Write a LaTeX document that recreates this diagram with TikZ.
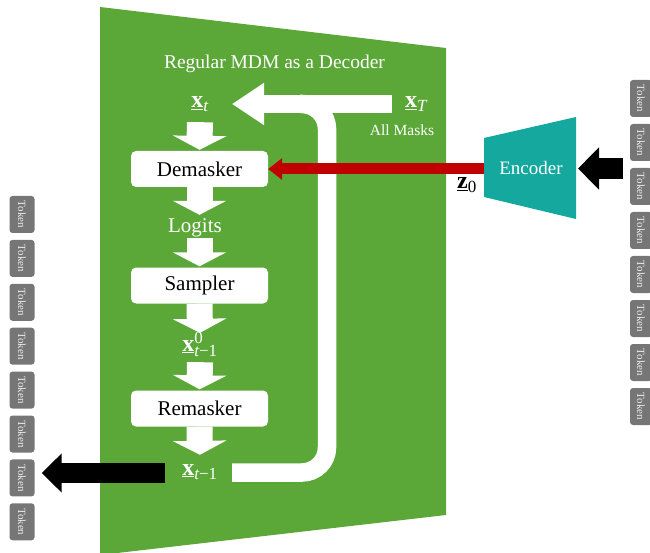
\documentclass[tikz,border=0pt]{standalone}
\usepackage{fontspec}
\setmainfont{Liberation Serif}
\usetikzlibrary{arrows.meta}
\definecolor{mdmgreen}{RGB}{91,168,56}
\definecolor{encteal}{RGB}{20,168,158}
\definecolor{tokgray}{RGB}{118,118,118}
\definecolor{zred}{RGB}{192,0,0}
% bold underlined vector symbol and script pieces set in the text font
\newcommand{\vecsym}[1]{\underline{\hbox{\fontsize{24}{26}\selectfont\bfseries #1}}}
\newcommand{\scr}[1]{\hbox{\fontsize{17}{17}\selectfont #1}}

\begin{document}
\begin{tikzpicture}[x=1pt,y=-1pt,
  stage/.style={fill=white, rounded corners=5pt, minimum width=137pt, minimum height=36pt,
    inner sep=0pt, text=black, font=\fontsize{21}{24}\selectfont},
  lbl/.style={inner sep=0pt, text height=12pt, text depth=4pt, text=white,
    font=\fontsize{19}{22}\selectfont},
  mlbl/.style={lbl, font=\fontsize{21}{24}\selectfont},
  blk/.style={white, line width=26pt, -{Triangle[length=14pt,width=53pt]}},
  token/.style={fill=tokgray, rounded corners=3pt, minimum width=37pt, minimum height=25pt,
    inner sep=0pt, rotate=-90, text=white!85!gray, font=\fontsize{11}{12}\selectfont},
]
\useasboundingbox (0,0) rectangle (650,553);

% decoder body
\fill[mdmgreen] (100,7) -- (446,48) -- (446,515) -- (100,555) -- cycle;
\node[lbl, font=\fontsize{19.5}{22}\selectfont] (title) at (274.5,65) {Regular MDM as a Decoder};

% labels and stages
\node[mlbl] (xt) at (200,104) {$\vecsym{x}_{\scr{\itshape t}}$};
\node[mlbl] (xT) at (416,104) {$\vecsym{x}_{\scr{\itshape T}}$};
\node[lbl, font=\fontsize{15.5}{18}\selectfont] (allm) at (402,132) {All Masks};
\node[stage] (dem) at (199.5,169) {Demasker};
\node[lbl, font=\fontsize{21}{24}\selectfont] (logits) at (195,229) {Logits};
\node[stage] (sam) at (199.5,285.5) {Sampler};
\node[mlbl, text height=18pt, text depth=6pt] (x0) at (200,345)
  {$\vecsym{x}^{\scr{0}}_{\scr{\itshape t\upshape −1}}$};
\node[stage] (rem) at (199.5,408.5) {Remasker};
\node[mlbl] (xtm) at (200,471) {$\vecsym{x}_{\scr{\itshape t\upshape −1}}$};

% pipeline arrows
\draw[blk, shorten <=10pt, shorten >=1pt] (xt.south) -- (dem.north);
\draw[blk, shorten >=6pt] (dem.south) -- (dem.south |- logits.north);
\draw[blk, shorten <=1pt, shorten >=1pt] (sam.north |- logits.south) -- (sam.north);
\draw[blk] (sam.south) -- (x0.north);
\draw[blk, shorten <=5pt, shorten >=1pt] (x0.south) -- (rem.north);
\draw[blk, shorten >=8pt] (rem.south) -- (xtm.north);

% feedback loop
\coordinate (loopR) at (392,104);
\coordinate (loopTip) at (232,104);
\coordinate (loopL) at (232,472.5);
\draw[white, line width=18.5pt, rounded corners=25pt]
  (loopL) -| (327,104) -- (300,104);
\draw[white, line width=18pt, -{Triangle[length=32pt,width=40pt]}] (loopR) -- (loopTip);

% encoder
\fill[encteal] (484,138) -- (576,117) -- (576,219) -- (484,197) -- cycle;
\node[inner sep=0pt, text=white, font=\fontsize{19}{22}\selectfont] (enc) at (531,168) {Encoder};
\coordinate (encL) at (484,169);
\coordinate (encR) at (578,168.5);
\draw[zred, line width=11pt, -{Triangle[length=14pt,width=21pt]}] (encL) -- (dem.east);
\node[inner sep=0pt, font=\fontsize{21}{24}\selectfont] (z0) at (467,185) {$\vecsym{z}_{\scr{0}}$};

% tokens (rotated: north faces right, south faces left)
\foreach \i in {1,...,8} {
  \node[token] (tokL\i) at (22,{214.5+(\i-1)*43.9}) {Token};
  \node[token, minimum height=22pt] (tokR\i) at (641,{98.5+(\i-1)*44}) {Token};
}

% input and output arrows
\coordinate (outR) at (165,473);
\draw[black, line width=21pt, -{Triangle[length=21pt,width=41pt]}, shorten <=7pt]
  (encR -| tokR1.south) -- (encR);
\draw[black, line width=20pt, -{Triangle[length=20pt,width=38pt]}, shorten >=7pt]
  (outR) -- (outR -| tokL7.north);
\end{tikzpicture}
\end{document}
